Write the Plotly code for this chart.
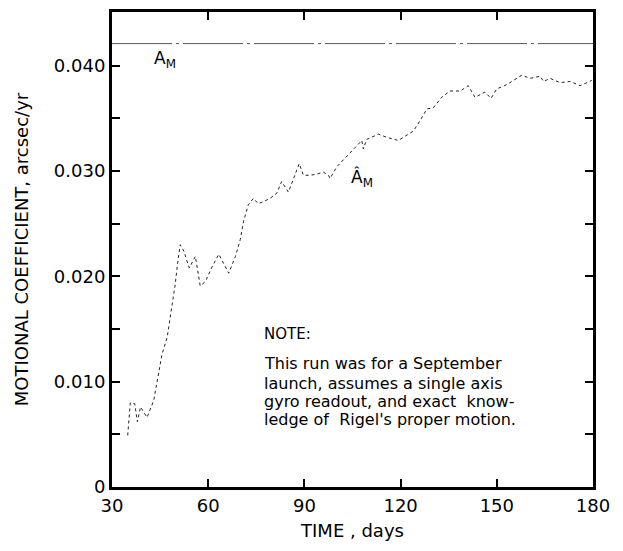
import plotly.graph_objects as go

# Estimated motional coefficient (A_M hat), arcsec/yr
days = [34.9, 35.7, 37.1, 37.9, 38.9, 40.9, 43.0, 44.6, 45.6, 47.2, 48.7, 49.7, 50.6, 51.3,
        52.4, 54.1, 56.0, 57.5, 59.1, 61.2, 63.3, 66.4, 68.5, 70.0, 71.0, 72.5, 74.1, 75.6,
        77.2, 79.3, 81.4, 82.9, 85.0, 87.1, 88.4, 89.7, 91.8, 93.8, 95.9, 97.5, 98.0, 100.1,
        102.7, 105.3, 107.9, 108.4, 109.4, 113.1, 115.7, 119.3, 121.9, 124.0, 126.1, 128.2,
        130.2, 132.8, 135.4, 138.6, 141.1, 143.2, 146.3, 148.2, 150.0, 153.1, 155.7, 157.8,
        160.4, 163.5, 164.6, 166.6, 169.7, 172.9, 176.0, 178.0, 179.6]
a_hat = [0.0049, 0.0080, 0.0079, 0.0062, 0.0076, 0.0066, 0.0082, 0.0110, 0.0126, 0.0142,
         0.0170, 0.0192, 0.0216, 0.0230, 0.0224, 0.0208, 0.0219, 0.0191, 0.0195, 0.0209,
         0.0221, 0.0203, 0.0219, 0.0235, 0.0252, 0.0268, 0.0274, 0.0269, 0.0271, 0.0274,
         0.0279, 0.0290, 0.0280, 0.0296, 0.0307, 0.0296, 0.0296, 0.0297, 0.0299, 0.0296,
         0.0293, 0.0304, 0.0312, 0.0321, 0.0329, 0.0321, 0.0330, 0.0335, 0.0332, 0.0329,
         0.0334, 0.0338, 0.0348, 0.0359, 0.0360, 0.0370, 0.0376, 0.0376, 0.0381, 0.0370,
         0.0375, 0.0369, 0.0378, 0.0382, 0.0387, 0.0391, 0.0388, 0.0390, 0.0385, 0.0388,
         0.0384, 0.0385, 0.0381, 0.0384, 0.0386]

# True motional coefficient A_M
true_days = [30, 180]
true_a = [0.0421, 0.0421]

x_ticks = [30, 60, 90, 120, 150, 180]
y_ticks = [0, 0.010, 0.020, 0.030, 0.040]
y_labels = ["0", "0.010", "0.020", "0.030", "0.040"]
y_minor = [0.005, 0.015, 0.025, 0.035]

note_title = "NOTE:"
note_lines = ["This run was for a September",
              "launch, assumes a single axis",
              "gyro readout, and exact  know-",
              "ledge of  Rigel's proper motion."]

FONT = "DejaVu Sans"

fig = go.Figure()
fig.add_trace(go.Scatter(x=true_days, y=true_a, mode="lines",
                         line=dict(color="#555555", width=1, dash="60px,4px,3px,4px"),
                         showlegend=False))
fig.add_trace(go.Scatter(x=days, y=a_hat, mode="lines",
                         line=dict(color="#222222", width=1, dash="3px,3px"),
                         showlegend=False))

fig.add_annotation(x=42.5, y=0.0406, text="A<sub>M</sub>", showarrow=False,
                   xanchor="left", yanchor="middle",
                   font=dict(family=FONT, size=17, color="black"))
fig.add_annotation(x=104, y=0.0293, text="Â<sub>M</sub>", showarrow=False,
                   xanchor="left", yanchor="middle",
                   font=dict(family=FONT, size=17, color="black"))

fig.add_annotation(x=76.8, y=0.0145, text=note_title, showarrow=False,
                   xanchor="left", yanchor="middle",
                   font=dict(family=FONT, size=15, color="black"))
note_y = [0.0117, 0.0098, 0.0081, 0.0064]
for t, yy in zip(note_lines, note_y):
    fig.add_annotation(x=76.8, y=yy, text=t, showarrow=False,
                       xanchor="left", yanchor="middle",
                       font=dict(family=FONT, size=16, color="black"))

fig.update_xaxes(range=[30, 180], tickvals=x_ticks, ticks="inside", ticklen=8,
                 tickwidth=1.5, tickcolor="black", showline=True, linewidth=3,
                 linecolor="black", mirror="ticks", showgrid=False, zeroline=False,
                 tickfont=dict(family=FONT, size=18, color="black"),
                 title=dict(text="TIME , days", standoff=10,
                            font=dict(family=FONT, size=18, color="black")))
fig.update_yaxes(range=[0, 0.0451], tickvals=y_ticks, ticktext=y_labels,
                 ticks="inside", ticklen=8, tickwidth=1.5, tickcolor="black",
                 minor=dict(tickvals=y_minor, ticks="inside", ticklen=8,
                            tickwidth=1.5, tickcolor="black", showgrid=False),
                 showline=True, linewidth=3, linecolor="black", mirror="ticks",
                 showgrid=False, zeroline=False,
                 tickfont=dict(family=FONT, size=18, color="black"),
                 title=dict(text="MOTIONAL COEFFICIENT, arcsec/yr", standoff=21,
                            font=dict(family=FONT, size=18, color="black")))

# page body has an 8px margin, so the figure is offset by 8px
fig.update_layout(width=615, height=543, margin=dict(l=104, r=30, t=1, b=64),
                  plot_bgcolor="white", paper_bgcolor="white",
                  font=dict(family=FONT, color="black"))

fig.write_html("out.html")
